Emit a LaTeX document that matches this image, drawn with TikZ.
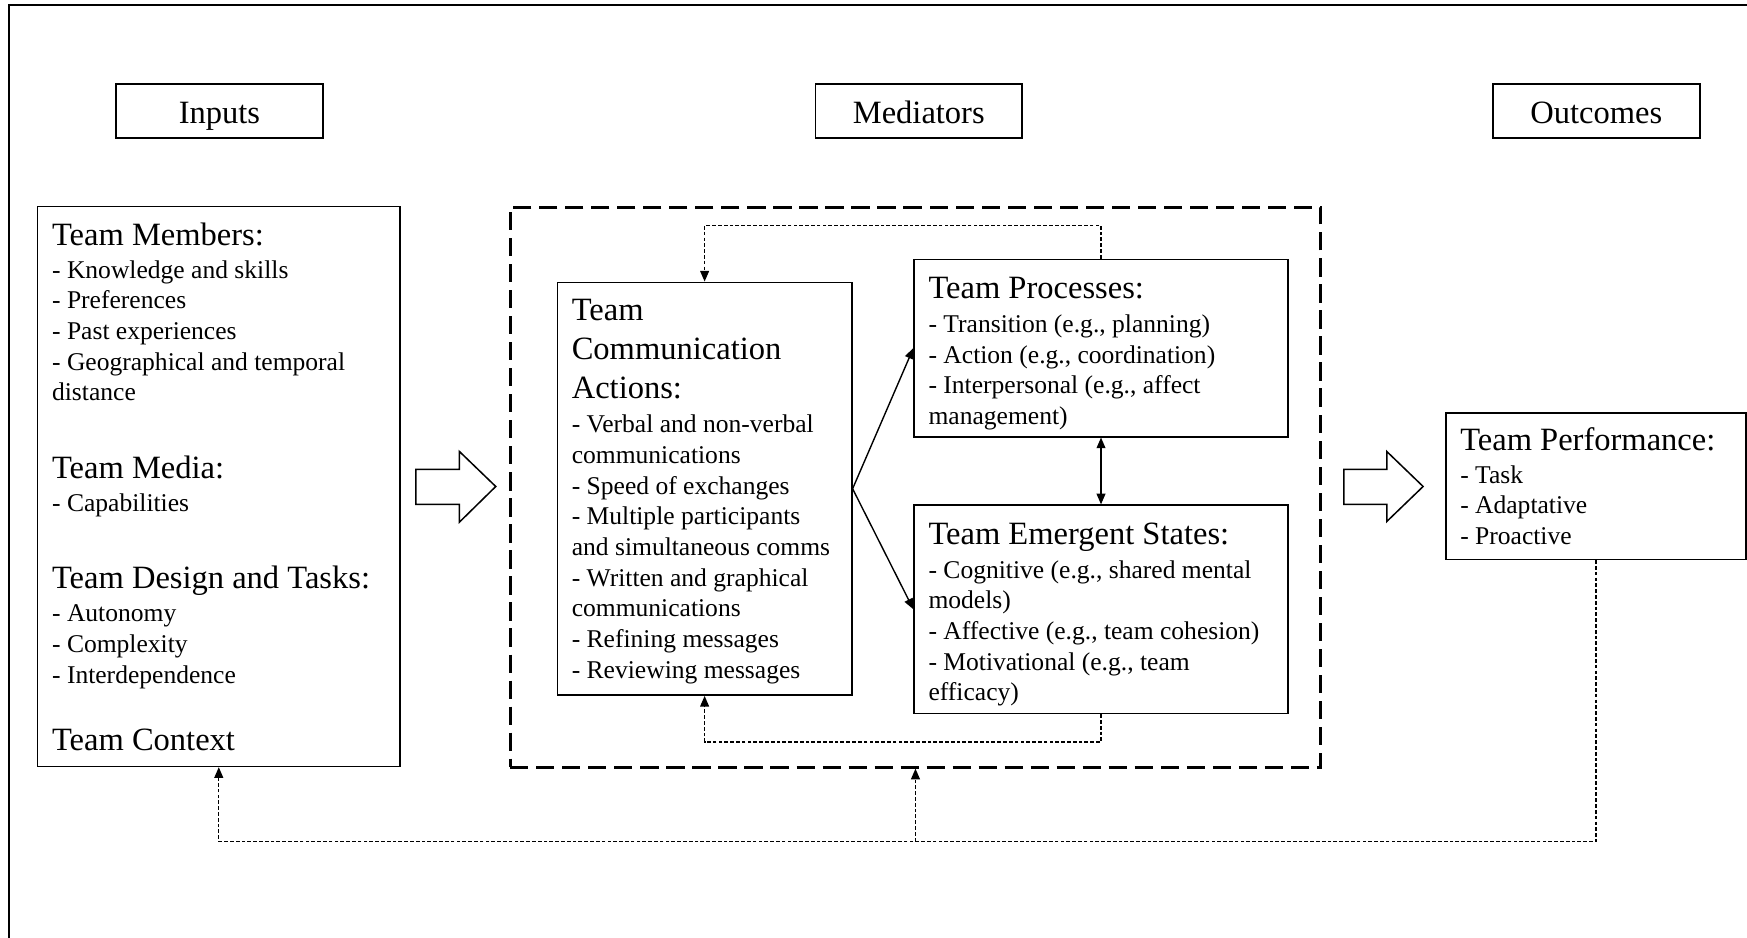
\documentclass[tikz,border=0pt]{standalone}
\usepackage{fontspec}
\setmainfont{Liberation Serif}
\usetikzlibrary{arrows.meta}
\newcommand{\boxhead}[1]{{\fontsize{14}{16.8}\selectfont #1}}

\begin{document}
\begin{tikzpicture}[
  stagebox/.style={draw, line width=0.65pt, minimum width=3.13cm, minimum height=0.82cm, inner sep=0pt, text height=10.8pt, text depth=0pt, font=\fontsize{14}{16.8}\selectfont},
  textbox/.style={draw, line width=0.65pt, align=flush left, inner xsep=6.2pt, inner ysep=1pt, font=\fontsize{11}{13.2}\selectfont},
  link/.style={line width=0.6pt, -{Triangle[length=4.6pt, width=3.8pt]}},
  loopline/.style={line width=0.6pt, dash pattern=on 1.6pt off 0.9pt, -{Triangle[length=4.6pt, width=3.8pt]}},
  blockarrow/.style={draw, line width=0.65pt, fill=white}
]
  \useasboundingbox (0,0) rectangle (26.43,-14.18);
  \draw[line width=0.9pt] (0.14,-14.3) -- (0.14,-0.08) -- (26.6,-0.08);

  \node[stagebox] (inputs) at (3.32,-1.68) {Inputs};
  \node[stagebox] (mediators) at (13.90,-1.68) {Mediators};
  \node[stagebox] (outcomes) at (24.15,-1.68) {Outcomes};

  \node[draw, line width=1.3pt, dash pattern=on 7.8pt off 3.4pt, minimum width=12.26cm, minimum height=8.47cm, inner sep=0pt] (medbox) at (13.85,-7.37) {};

  \node[textbox, text width=5.479cm-12.4pt, minimum height=8.47cm] (members) at (3.31,-7.36) {
    \boxhead{Team Members:}\\[1pt]
    - Knowledge and skills\\
    - Preferences\\
    - Past experiences\\
    - Geographical and temporal\\
    distance\\[20.2pt]
    \boxhead{Team Media:}\\[1pt]
    - Capabilities\\[20.2pt]
    \boxhead{Team Design and Tasks:}\\[1pt]
    - Autonomy\\
    - Complexity\\
    - Interdependence\\[15.6pt]
    \boxhead{Team Context}};

  \node[textbox, text width=4.455cm-12.4pt, minimum height=6.245cm] (comm) at (10.66,-7.394) {
    \boxhead{Team}\\[3.6pt]
    \boxhead{Communication}\\[3.6pt]
    \boxhead{Actions:}\\[1.4pt]
    - Verbal and non-verbal\\
    communications\\
    - Speed of exchanges\\
    - Multiple participants\\
    and simultaneous comms\\
    - Written and graphical\\
    communications\\
    - Refining messages\\
    \smash{- Reviewing messages}};

  \node[textbox, text width=5.654cm-12.4pt, minimum height=2.684cm] (processes) at (16.657,-5.266) {
    \rule{0pt}{11.7pt}\boxhead{Team Processes:}\\[1.4pt]
    - Transition (e.g., planning)\\
    - Action (e.g., coordination)\\
    - Interpersonal (e.g., affect\\
    \smash{management)}};

  \node[textbox, text width=5.654cm-12.4pt, minimum height=3.152cm] (emergent) at (16.657,-9.218) {
    \rule{0pt}{11.3pt}\boxhead{Team Emergent States:}\\[1.4pt]
    - Cognitive (e.g., shared mental\\
    models)\\
    - Affective (e.g., team cohesion)\\
    - Motivational (e.g., team\\
    \smash{efficacy)}};

  \node[textbox, text width=4.544cm-12.4pt, minimum height=2.218cm] (performance) at (24.146,-7.354) {
    \boxhead{Team Performance:}\\[1pt]
    - Task\\
    - Adaptative\\
    - Proactive};

  \draw[blockarrow] (6.29,-7.10) -- (6.95,-7.10) -- (6.95,-6.83) -- (7.50,-7.36) -- (6.95,-7.90) -- (6.95,-7.63) -- (6.29,-7.63) -- cycle;
  \draw[blockarrow] (20.33,-7.10) -- (20.98,-7.10) -- (20.98,-6.83) -- (21.53,-7.36) -- (20.98,-7.89) -- (20.98,-7.63) -- (20.33,-7.63) -- cycle;

  \draw[link] (comm.east) -- (processes.west);
  \draw[link] (comm.east) -- (emergent.west);
  \draw[link, {Triangle[length=4.6pt, width=3.8pt]}-{Triangle[length=4.6pt, width=3.8pt]}] (processes.south) -- (emergent.north);

  \draw[loopline] (processes.north) -- ++(0,0.50) -| (comm.north);
  \draw[loopline] (emergent.south) -- ++(0,-0.42) -| (comm.south);

  \coordinate (back) at (13.85,-12.73);
  \draw[loopline] (performance.south) |- (back) -| (members.south);
  \draw[loopline] (back) -- (medbox.south);
\end{tikzpicture}
\end{document}
